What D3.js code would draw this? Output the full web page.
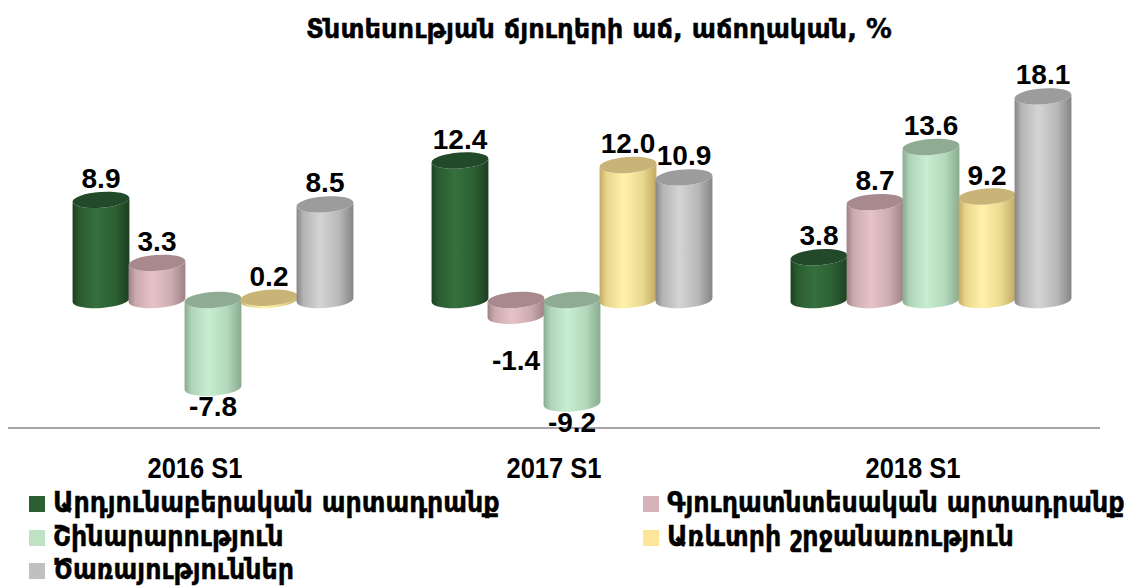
<!DOCTYPE html>
<html><head><meta charset="utf-8">
<script src="https://cdn.jsdelivr.net/npm/d3@7"></script>
<style>
body{margin:0;background:#fff;}
svg{display:block;}
</style></head>
<body><svg id="c" width="1139" height="587"></svg>
<script>
const title = "Տնտեսության ճյուղերի աճ, աճողական,  %";
const categories = ["2016 S1", "2017 S1", "2018 S1"];
const seriesNames = ["Արդյունաբերական արտադրանք", "Գյուղատնտեսական արտադրանք", "Շինարարություն", "Առևտրի շրջանառություն", "Ծառայություններ"];
const industry     = [8.9, 12.4, 3.8];
const agriculture  = [3.3, -1.4, 8.7];
const construction = [-7.8, -9.2, 13.6];
const trade        = [0.2, 12.0, 9.2];
const services     = [8.5, 10.9, 18.1];
const seriesValues = [industry, agriculture, construction, trade, services];

const colors = [
  {legend:"#2d5e32", light:"#35703d", edge:"#1c3f20", top:"#22492a"},
  {legend:"#d5b3b8", light:"#e6c3c8", edge:"#9f8186", top:"#a8898e"},
  {legend:"#c0e2c4", light:"#c8eed2", edge:"#8aab90", top:"#8fab93"},
  {legend:"#ffe59a", light:"#fff2a8", edge:"#c4aa62", top:"#c9b478"},
  {legend:"#c0c0c0", light:"#d4d4d4", edge:"#858585", top:"#9c9c9c"}
];

const armFont = "'DejaVu Sans',sans-serif";
const svg = d3.select("#c");
const defs = svg.append("defs");
colors.forEach((c,i)=>{
  const g = defs.append("linearGradient").attr("id","g"+i).attr("x1","0").attr("x2","1").attr("y1","0").attr("y2","0");
  g.append("stop").attr("offset","0%").attr("stop-color",c.edge);
  g.append("stop").attr("offset","12%").attr("stop-color",d3.interpolateRgb(c.edge,c.light)(0.6));
  g.append("stop").attr("offset","42%").attr("stop-color",c.light);
  g.append("stop").attr("offset","75%").attr("stop-color",d3.interpolateRgb(c.light,c.edge)(0.35));
  g.append("stop").attr("offset","100%").attr("stop-color",c.edge);
});

const x0 = d3.scaleBand().domain(categories).range([33.5, 1110.5]).paddingInner(0).paddingOuter(0);
const x1 = d3.scaleBand().domain(d3.range(seriesNames.length)).range([-140, 140]);
const y = d3.scaleLinear().domain([-10, 20]).range([300 + 10*11.25, 300 - 20*11.25]);

// helper: draw text horizontally scaled to a target width
function fitText(g, str, x, yb, size, targetW, extra){
  const t = g.append("text").attr("x",0).attr("y",0)
    .attr("font-family",armFont).attr("font-weight","bold").attr("font-size",size)
    .attr("fill","#000").attr("stroke","#000").attr("stroke-width",0.4).text(str);
  if (extra) extra(t);
  const w = t.node().getComputedTextLength();
  const k = targetW ? targetW / w : 1;
  t.attr("transform",`translate(${x},${yb}) scale(${k},1)`);
  return {t, w};
}

// title
fitText(svg, title, 306, 38, 27, 586);

// axis line
svg.append("line").attr("x1",8).attr("x2",1100).attr("y1",428).attr("y2",428)
  .attr("stroke","#a6a6a6").attr("stroke-width",2.2);

const rx = 28.5, ry = 8, phi = -4;
const sinp = Math.sin(phi*Math.PI/180), cosp = Math.cos(phi*Math.PI/180);

function cylinder(g, cx, yTop, yBot, i){
  const lx = cx - rx*cosp, rxp = cx + rx*cosp;
  const dl = -rx*sinp, dr = rx*sinp;
  const p = `M${lx},${yTop+dl} L${lx},${yBot+dl} A${rx},${ry} ${phi} 0 0 ${rxp},${yBot+dr} L${rxp},${yTop+dr} A${rx},${ry} ${phi} 0 1 ${lx},${yTop+dl} Z`;
  g.append("path").attr("d", p).attr("fill", `url(#g${i})`);
  g.append("ellipse").attr("cx",cx).attr("cy",yTop).attr("rx",rx).attr("ry",ry)
    .attr("transform",`rotate(${phi},${cx},${yTop})`).attr("fill",colors[i].top);
}

const bars = svg.append("g");
categories.forEach((cat, ci)=>{
  const gc = x0(cat) + x0.bandwidth()/2;
  seriesValues.forEach((vals, si)=>{
    const v = vals[ci];
    const cx = gc + x1(si) + x1.bandwidth()/2;
    const yTop = v >= 0 ? y(v) : y(0);
    const yBot = v >= 0 ? y(0) : y(v);
    cylinder(bars, cx, yTop, yBot, si);
  });
});

// value labels
const lab = svg.append("g").attr("font-family","'Liberation Sans',Arial,sans-serif")
  .attr("font-weight","bold").attr("font-size",28).attr("text-anchor","middle").attr("fill","#000");
categories.forEach((cat, ci)=>{
  const gc = x0(cat) + x0.bandwidth()/2;
  seriesValues.forEach((vals, si)=>{
    const v = vals[ci];
    const cx = gc + x1(si) + x1.bandwidth()/2;
    const yc = v >= 0 ? y(v) - 22 : Math.max(y(v) + 18, y(0) + 60);
    lab.append("text").attr("x", cx).attr("y", yc).attr("dy","0.36em").text(v.toFixed(1));
  });
});

// category labels
svg.append("g").selectAll("text").data(categories).join("text")
  .attr("x", d => x0(d) + x0.bandwidth()/2 - 18 - 47.5).attr("y", 468).attr("dy","0.36em")
  .attr("font-family","'Liberation Sans',Arial,sans-serif")
  .attr("font-weight","bold").attr("font-size",29).attr("fill","#000")
  .attr("textLength",95).attr("lengthAdjust","spacingAndGlyphs").text(d=>d);

// legend
const legendPos = [[29,504],[643,504],[29,538],[643,538],[29,571]];
const lg = svg.append("g");
const items = seriesNames.map((n,i)=>{
  const [lx, ly] = legendPos[i];
  lg.append("rect").attr("x",lx).attr("y",ly-8).attr("width",16).attr("height",16).attr("fill",colors[i].legend);
  return fitText(lg, n, lx+24, ly+8, 28, null);
});
const kLeg = 447 / items[0].w;
items.forEach((it,i)=>{
  const [lx, ly] = legendPos[i];
  it.t.attr("transform",`translate(${lx+24},${ly+8}) scale(${kLeg},1)`);
});
</script></body></html>
